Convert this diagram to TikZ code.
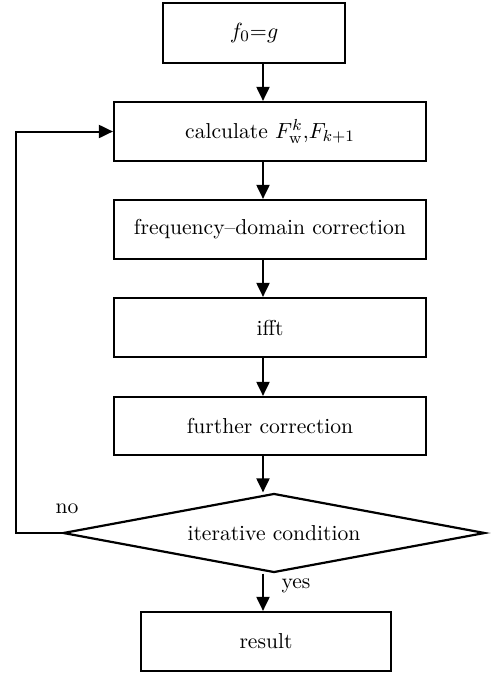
\documentclass[tikz,border=0pt]{standalone}
\usetikzlibrary{shapes.geometric,arrows.meta}

\begin{document}
\begin{tikzpicture}[x=0.5pt, y=-0.5pt,
    box/.style={rectangle, draw, line width=1.1pt, inner sep=0pt, font=\fontsize{10.8pt}{13pt}\selectfont},
    test/.style={diamond, draw, line width=1.1pt, inner sep=0pt, aspect=5.3, minimum width=211pt, minimum height=39.5pt, font=\fontsize{10.8pt}{13pt}\selectfont},
    arr/.style={line width=1pt, -{Triangle[length=7pt,width=6.5pt]}},
    tag/.style={font=\fontsize{10.8pt}{13pt}\selectfont}
]
    \useasboundingbox (0,0) rectangle (498,675);

    % boxes
    \node[box, minimum width=91pt, minimum height=30pt] (start) at (254,33) {$f_0{=}g$};
    \node[box, minimum width=156pt, minimum height=29.5pt] (calc) at (270,131.5) {calculate $F_{\mathrm{w}}^{k}$,$F_{k+1}$};
    \node[box, minimum width=156pt, minimum height=29.5pt] (freq) at (270,229.5) {frequency--domain correction};
    \node[box, minimum width=156pt, minimum height=29.5pt] (ifft) at (270,327.5) {ifft};
    \node[box, minimum width=156pt, minimum height=29pt] (further) at (270,426) {further correction};
    \node[test] (cond) at (274,533) {iterative condition};
    \node[box, minimum width=125pt, minimum height=29.5pt] (result) at (266,641.5) {result};

    % labels
    \node[tag] (no) at (67,509) {no};
    \node[tag] (yes) at (296,586) {yes};

    % main line and loop back
    \coordinate (axis) at (263,0);
    \coordinate (back) at (16,132);

    \draw[arr] (start.south -| axis) -- (calc.north -| axis);
    \draw[arr] (calc.south -| axis) -- (freq.north -| axis);
    \draw[arr] (freq.south -| axis) -- (ifft.north -| axis);
    \draw[arr] (ifft.south -| axis) -- (further.north -| axis);
    \draw[arr] (further.south -| axis) -- (axis |- cond.north);
    \draw[arr] (cond.south -| axis) -- (result.north -| axis);
    \draw[arr] (cond.west) -- (cond.west -| back) |- (calc.west);

\end{tikzpicture}
\end{document}
